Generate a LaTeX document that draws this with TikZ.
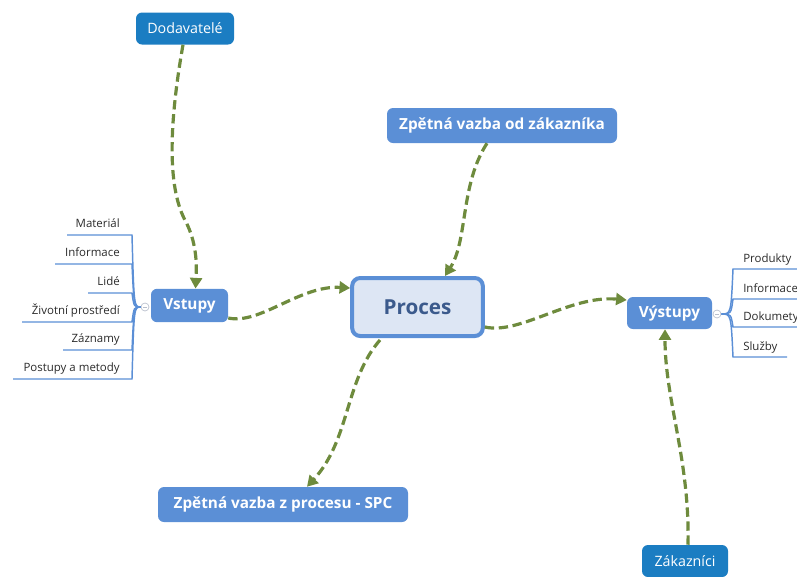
\documentclass[tikz,border=0pt]{standalone}
\usepackage{fontspec}
\setmainfont{Open Sans}
\usetikzlibrary{arrows.meta,calc}
\definecolor{topicblue}{HTML}{5B8FD6}
\definecolor{extblue}{HTML}{1B7DC2}
\definecolor{procfill}{HTML}{DDE6F4}
\definecolor{proctext}{HTML}{3B5A8C}
\definecolor{flowgreen}{HTML}{6E8B3D}
\definecolor{itemtext}{HTML}{2A2A2A}
\definecolor{togglegray}{HTML}{B8BFCC}

\begin{document}
\begin{tikzpicture}[x=0.75pt,y=-0.75pt,
  topic/.style={fill=topicblue, text=white, font=\bfseries\fontsize{11.5}{13}\selectfont,
    rounded corners=4.5pt, inner sep=0pt, minimum height=25pt},
  extern/.style={fill=extblue, text=white, font=\fontsize{10.7}{12}\selectfont,
    rounded corners=4.5pt, inner sep=0pt, minimum height=24pt},
  central/.style={draw=topicblue, line width=3pt, fill=procfill, text=proctext,
    font=\bfseries\fontsize{15.5}{17}\selectfont, rounded corners=6pt, inner sep=0pt,
    minimum width=98pt, minimum height=43.5pt},
  flow/.style={draw=flowgreen, line width=2.4pt, dash pattern=on 7pt off 3.5pt,
    -{Triangle[length=8pt,width=9pt]}},
  branch/.style={draw=topicblue, line width=1.1pt},
  item/.style={text=itemtext, font=\fontsize{8.6}{10}\selectfont, inner sep=0pt},
  toggle/.style={circle, draw=togglegray, fill=white, line width=0.5pt,
    minimum size=6pt, inner sep=0pt}
]
\useasboundingbox (0,0) rectangle (797,576);

% main topics
\node[extern, minimum width=73.5pt] (dod) at (185,28.5) {Dodavatelé};
\node[topic, minimum width=172.5pt, minimum height=26.25pt] (zvz) at (502,125.5) {Zpětná vazba od zákazníka};
\node[topic, minimum width=57.75pt] (vst) at (189.5,305.5) {Vstupy};
\node[central] (proc) at (417.5,307) {Proces};
\node[topic, minimum width=63.75pt, minimum height=24pt] (vys) at (669.5,313) {Výstupy};
\node[topic, minimum width=187.5pt, minimum height=26.25pt] (spc) at (283,504.5) {Zpětná vazba z procesu - SPC};
\node[extern, minimum width=64.5pt] (zak) at (685,561) {Zákazníci};

% collapse toggles
\node[toggle] (tl) at (145,307) {};
\node[toggle] (tr) at (717,314) {};
\draw[togglegray, line width=0.5pt] ($(tl)+(-2,0)$) -- ($(tl)+(2,0)$);
\draw[togglegray, line width=0.5pt] ($(tr)+(-2,0)$) -- ($(tr)+(2,0)$);

% input subtopics
\foreach \txt/\yy/\xs [count=\i] in {Materiál/235/67, Informace/264/55, Lidé/293/88,
    Životní prostředí/322/22, Záznamy/350/63, Postupy a metody/379/13} {
  \coordinate (le\i) at (132,\yy);
  \draw[branch] (\xs,\yy) -- (le\i) .. controls (134,307) .. (tl.west);
  \node[item, anchor=base east] (li\i) at (120,\yy-8) {\txt};
}

% output subtopics
\foreach \txt/\yy/\xe [count=\i] in {Produkty/269/800, Informace/299/800,
    Dokumety/327/800, Služby/357/787} {
  \coordinate (rs\i) at (733,\yy);
  \draw[branch] (tr.east) .. controls (731,314) .. (rs\i) -- (\xe,\yy);
  \node[item, anchor=base west] (ri\i) at (743,\yy-7) {\txt};
}

% relations
\draw[flow] ($(dod.south)+(-2,0)$) .. controls (168,130) and (168,190) .. (186,222)
  .. controls (196,242) and (197,262) .. ($(vst.north)+(6,0)$);
\draw[flow] ($(zvz.south)+(-15,0)$) .. controls (460,185) and (468,240) .. ($(proc.north)+(27.5,0)$);
\draw[flow] ($(vst.east)+(0,12.5)$) .. controls (260,325) and (300,285) .. ($(proc.west)+(0,-19)$);
\draw[flow] ($(proc.south)+(-37.5,2)$) .. controls (345,380) and (350,440) .. ($(spc.north)+(24,0)$);
\draw[flow] ($(proc.east)+(0,20)$) .. controls (520,335) and (570,295) .. ($(vys.west)+(0,-13)$);
\draw[flow] ($(zak.north)+(3,0)$) .. controls (690,460) and (665,400) .. ($(vys.south)+(-4.5,0)$);
\end{tikzpicture}
\end{document}
